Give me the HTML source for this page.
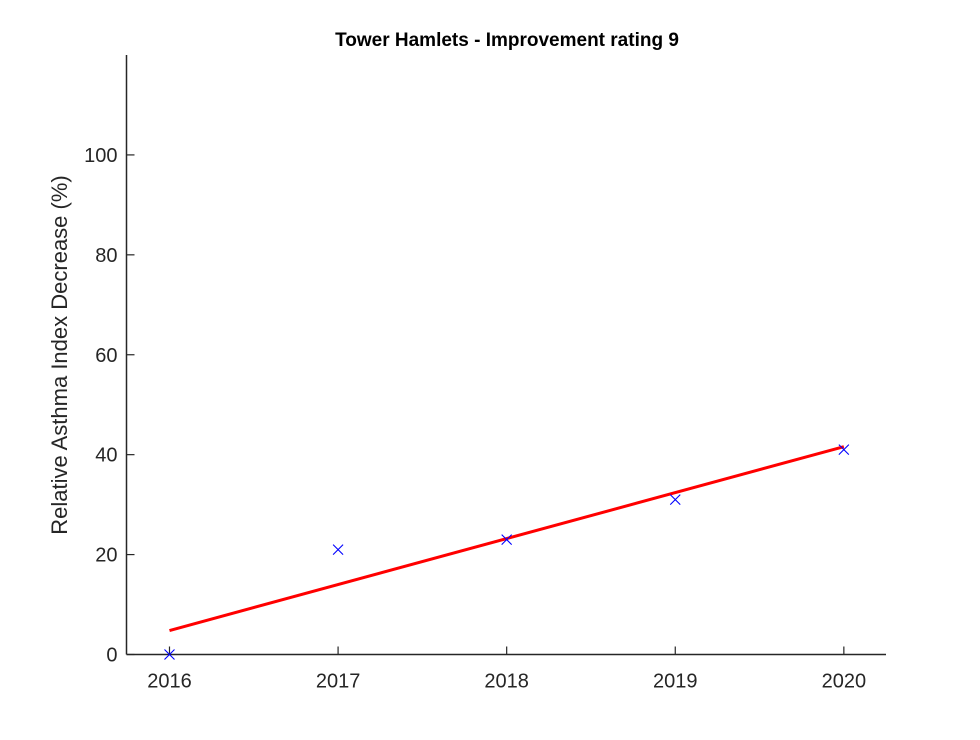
<!DOCTYPE html>
<html><head><meta charset="utf-8"><style>
body{margin:0;background:#fff;}
svg text{font-family:"Liberation Sans",Arial,sans-serif;fill:#262626;}
</style></head><body>
<svg id="chart" width="980" height="735" xmlns="http://www.w3.org/2000/svg">
<rect width="980" height="735" fill="#fff"/>
<text x="507" y="46" text-anchor="middle" font-size="19" font-weight="bold" style="fill:#000">Tower Hamlets - Improvement rating 9</text>
<text transform="translate(67,355) rotate(-90)" text-anchor="middle" font-size="22">Relative Asthma Index Decrease (%)</text>
<g id="axes"></g>
<g id="marks"></g>
</svg>
<script>
const years=[2016,2017,2018,2019,2020];
const values=[0,21,23,31,41];
const yTicks=[0,20,40,60,80,100];
const xTicks=[2016,2017,2018,2019,2020];
const L=126.5,R=886,T=55,B=654.5,xMin=2015.745,xMax=2020.25,yMin=0,yMax=120;
const sx=v=>L+(v-xMin)/(xMax-xMin)*(R-L);
const sy=v=>B-(v-yMin)/(yMax-yMin)*(B-T);
const NS="http://www.w3.org/2000/svg";
function mk(t,a,p){const e=document.createElementNS(NS,t);for(const k in a)e.setAttribute(k,a[k]);p.appendChild(e);return e;}
const ax=document.getElementById('axes'),mg=document.getElementById('marks');
const yl=mk('line',{x1:L,y1:T,x2:L,y2:B,stroke:'#262626','stroke-width':1.5},ax);


const xl=mk('line',{x1:L,y1:B,x2:R,y2:B,stroke:'#262626','stroke-width':1.5},ax);


yTicks.forEach(v=>{const y=sy(v);
mk('line',{x1:L,y1:y,x2:L+8,y2:y,stroke:'#262626','stroke-width':1.2},ax);
const t=mk('text',{x:L-9,y:y+7,'text-anchor':'end','font-size':20},ax);t.textContent=v;

});
xTicks.forEach(v=>{const x=sx(v);
mk('line',{x1:x,y1:B,x2:x,y2:B-8,stroke:'#262626','stroke-width':1.2},ax);
const t=mk('text',{x:x,y:B+33,'text-anchor':'middle','font-size':20},ax);t.textContent=v;

});
const n=years.length,mx=years.reduce((a,b)=>a+b)/n,my=values.reduce((a,b)=>a+b)/n;
let num=0,den=0;years.forEach((x,i)=>{num+=(x-mx)*(values[i]-my);den+=(x-mx)**2;});
const slope=num/den,icp=my-slope*mx;
const x0=years[0],x1=years[n-1];
const fit=mk('line',{x1:sx(x0),y1:sy(slope*x0+icp),x2:sx(x1),y2:sy(slope*x1+icp),stroke:'#ff0000','stroke-width':3},mg);


years.forEach((x,i)=>{const cx=sx(x),cy=sy(values[i]),s=5;
const p=mk('path',{d:`M${cx-s},${cy-s}L${cx+s},${cy+s}M${cx-s},${cy+s}L${cx+s},${cy-s}`,stroke:'#0000ff','stroke-width':1.1,fill:'none'},mg);

});
</script>
</body></html>
